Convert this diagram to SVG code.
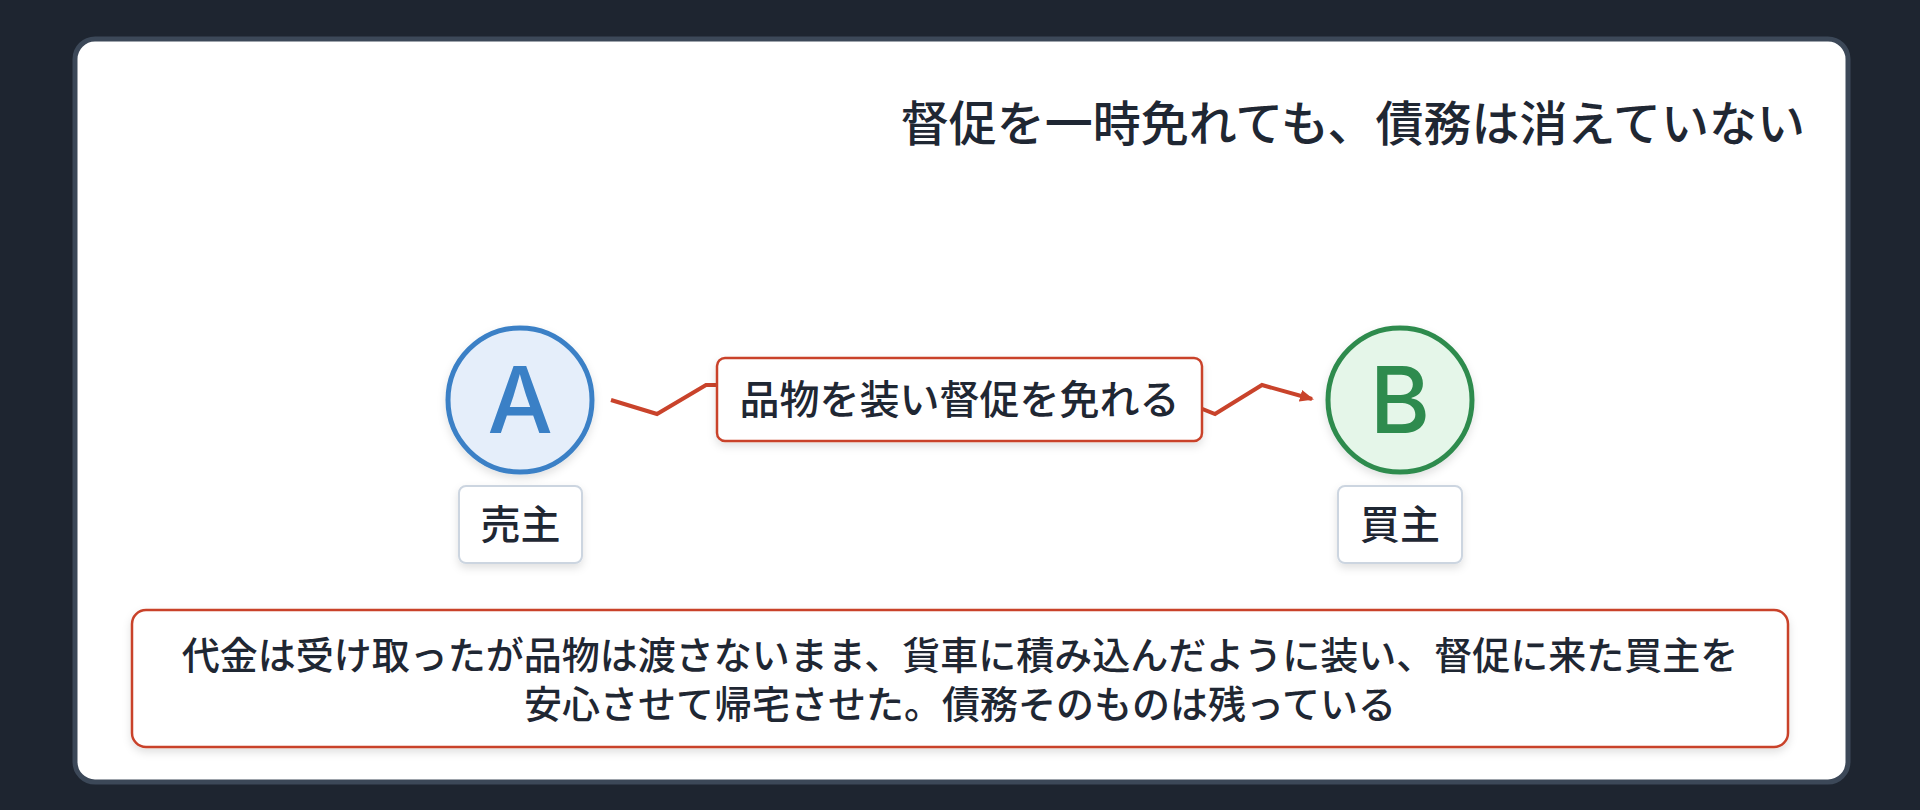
<svg xmlns="http://www.w3.org/2000/svg" width="1920" height="810" viewBox="0 0 1920 810">
<defs>
<style>
.jp{font-family:"Noto Sans CJK JP","Noto Sans CJK SC",sans-serif;fill:#1f2733;}
.title{font-size:48px;font-weight:500;}
.lbl{font-size:40px;font-weight:500;}
.note{font-size:38px;font-weight:500;}
.letter{font-family:Inter,"Noto Sans",sans-serif;font-size:92px;font-weight:500;}
.tag{fill:#ffffff;stroke:#ccd5e0;stroke-width:2;}
.red{fill:#ffffff;stroke:#c9432b;stroke-width:2.5;}
.edge{fill:none;stroke:#c9432b;stroke-width:4;stroke-linejoin:miter;}
</style>
<filter id="sh" x="-20%" y="-20%" width="140%" height="150%">
<feDropShadow dx="0" dy="4" stdDeviation="4" flood-color="#000" flood-opacity="0.12"/>
</filter>
<marker id="arr" markerWidth="14" markerHeight="12" refX="12" refY="6" orient="auto" markerUnits="userSpaceOnUse">
<path d="M0,0 L14,6 L0,12 Z" fill="#c9432b"/>
</marker>
</defs>
<rect x="0" y="0" width="1920" height="810" fill="#1e2530"/>
<rect x="75" y="39" width="1773" height="743" rx="20" fill="#ffffff" stroke="#3c4858" stroke-width="5"/>
<text class="jp title" x="1805" y="141" text-anchor="end">督促を一時免れても、債務は消えていない</text>
<g id="connectors">
<path class="edge" d="M611,400 L657,414 L706,385 L740,385 L1180,400 L1215,414 L1262,385 L1312,399" marker-end="url(#arr)"/>
</g>
<g id="edge-label">
<rect class="red" x="717" y="358" width="485" height="83" rx="8" filter="url(#sh)"/>
<text class="jp lbl" x="959.5" y="414" text-anchor="middle">品物を装い督促を免れる</text>
</g>
<g id="node-a">
<circle cx="520" cy="400" r="72" fill="#e5eefa" stroke="#3a80c6" stroke-width="5" filter="url(#sh)"/>
<text class="letter" x="520" y="433" text-anchor="middle" fill="#3a80c6">A</text>
<rect class="tag" x="459" y="486" width="123" height="77" rx="7" filter="url(#sh)"/>
<text class="jp lbl" x="520.5" y="539" text-anchor="middle">売主</text>
</g>
<g id="node-b">
<circle cx="1400" cy="400" r="72" fill="#e5f6e9" stroke="#2e8b4e" stroke-width="5" filter="url(#sh)"/>
<text class="letter" x="1400" y="433" text-anchor="middle" fill="#2e8b4e">B</text>
<rect class="tag" x="1338" y="486" width="124" height="77" rx="7" filter="url(#sh)"/>
<text class="jp lbl" x="1400" y="539" text-anchor="middle">買主</text>
</g>
<g id="note">
<rect class="red" x="132" y="610" width="1656" height="137" rx="14" filter="url(#sh)"/>
<text class="jp note" text-anchor="middle"><tspan x="960" y="669">代金は受け取ったが品物は渡さないまま、貨車に積み込んだように装い、督促に来た買主を</tspan><tspan x="960" y="718">安心させて帰宅させた。債務そのものは残っている</tspan></text>
</g>
</svg>
